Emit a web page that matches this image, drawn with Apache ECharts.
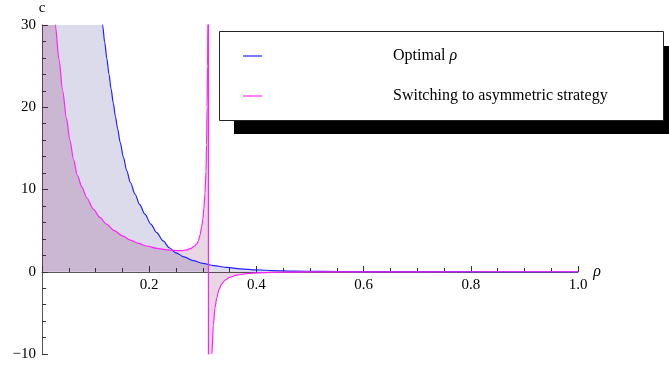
<!DOCTYPE html>
<html>
<head>
<meta charset="utf-8">
<script src="https://cdn.jsdelivr.net/npm/echarts@6/dist/echarts.min.js"></script>
<style>
  html, body { margin: 0; padding: 0; background: #fff; }
  #chart { width: 669px; height: 367px; }
</style>
</head>
<body>
<div id="chart"></div>
<script>
// Optimal rho (blue); first points lie above the plot top
const optimalRho = [0, 0.04, 0.07, 0.09, 0.1, 0.107, 0.113, 0.117, 0.121, 0.125, 0.129, 0.133, 0.137, 0.141, 0.146, 0.152, 0.158, 0.165, 0.1735, 0.182, 0.192, 0.203, 0.214, 0.226, 0.2375, 0.25, 0.265, 0.282, 0.3, 0.32, 0.345, 0.37, 0.4, 0.43, 0.47, 0.52, 0.6, 0.7, 0.85, 1.0]
const optimalC = [400, 180, 95, 62, 48, 38, 30, 27.9, 25.9, 24.0, 22.2, 20.5, 18.9, 17.4, 15.7, 13.9, 12.3, 10.85, 9.45, 8.2, 7.0, 5.8, 4.75, 3.75, 2.92, 2.3, 1.8, 1.36, 1.02, 0.75, 0.52, 0.36, 0.23, 0.14, 0.08, 0.04, 0.015, 0.006, 0.002, 0.001]

// Switching to asymmetric strategy (magenta): branch left of the pole near rho = 0.31
const switchRhoLeft = [0, 0.01, 0.018, 0.0248, 0.0317, 0.0386, 0.0455, 0.052, 0.059, 0.066, 0.0745, 0.0834, 0.096, 0.108, 0.12, 0.135, 0.15, 0.165, 0.18, 0.195, 0.214, 0.233, 0.25, 0.262, 0.27, 0.278, 0.284, 0.289, 0.292, 0.295, 0.298, 0.3, 0.302, 0.304, 0.306, 0.307, 0.308, 0.3088, 0.3097, 0.3105]
const switchCLeft = [300, 75, 44, 30, 25.8, 22.0, 18.7, 16.0, 13.6, 11.7, 10.3, 9.0, 7.6, 6.6, 5.8, 5.0, 4.35, 3.85, 3.45, 3.13, 2.85, 2.66, 2.58, 2.57, 2.65, 2.85, 3.1, 3.4, 3.8, 4.5, 5.5, 6.4, 7.7, 9.5, 12.2, 15.5, 20, 25, 31, 300]
// branch right of the pole
const switchRhoRight = [0.3105, 0.3125, 0.315, 0.317, 0.3196, 0.323, 0.326, 0.33, 0.335, 0.342, 0.351, 0.365, 0.382, 0.41, 0.443, 0.5, 0.6, 0.8, 1.0]
const switchCRight = [-300, -60, -17, -10, -6.5, -4.3, -3.2, -2.2, -1.5, -1.0, -0.65, -0.38, -0.22, -0.11, -0.05, -0.02, -0.006, -0.002, -0.001]

const xTicks = [0.2, 0.4, 0.6, 0.8, 1.0]
const yTicks = [-10, 0, 10, 20, 30]
const legendNames = ['Optimal {i|ρ}', 'Switching to asymmetric strategy']

const blueLine = '#2222ff'
const pinkLine = '#ff22ff'
const blueFill = 'rgba(40,40,140,0.17)'
const pinkFill = 'rgba(120,14,85,0.17)'
const serif = '"Liberation Serif", "DejaVu Serif", serif'

const pairs = (xs, ys) => xs.map((x, i) => [x, ys[i]])
const bluePts = pairs(optimalRho, optimalC)
const pinkLeft = pairs(switchRhoLeft, switchCLeft)
const pinkRight = pairs(switchRhoRight, switchCRight)
// 极点处的竖线
const pinkPole = [pinkLeft[pinkLeft.length - 1], pinkRight[0]]

const chart = echarts.init(document.getElementById('chart'))

const axisText = { color: '#000', fontFamily: serif, fontSize: 15 }

function area(data, color) {
  return {
    type: 'line', data: data, symbol: 'none', z: 1,
    smooth: 0.3, smoothMonotone: 'x',
    lineStyle: { width: 0, opacity: 0 },
    areaStyle: { color: color, opacity: 1 }
  }
}
function curve(data, color, smooth) {
  return {
    type: 'line', data: data, symbol: 'none', z: 3,
    smooth: smooth ? 0.3 : false, smoothMonotone: 'x',
    lineStyle: { color: color, width: 1.2 }
  }
}

chart.setOption({
  animation: false,
  backgroundColor: '#fff',
  grid: { left: 42, right: 91, top: 25, bottom: 13, outerBoundsMode: 'none' },
  xAxis: {
    type: 'value',
    min: 0,
    max: 1,
    interval: 0.2,
    position: 'bottom',
    offset: -82,
    name: 'ρ',
    nameLocation: 'end',
    nameGap: 12,
    nameTextStyle: { color: '#000', fontFamily: serif, fontSize: 16, fontStyle: 'italic', padding: [0, 0, 4, 0] },
    axisLine: { onZero: false, lineStyle: { color: '#555', width: 1 } },
    axisTick: { inside: true, length: 6, lineStyle: { color: '#333' } },
    minorTick: { show: true, splitNumber: 4, length: 4, lineStyle: { color: '#333' } },
    splitLine: { show: false },
    axisLabel: Object.assign({
      margin: 6,
      formatter: v => (xTicks.some(t => Math.abs(t - v) < 1e-9) ? v.toFixed(1) : '')
    }, axisText)
  },
  yAxis: {
    type: 'value',
    min: -10,
    max: 30,
    interval: 10,
    name: 'c',
    nameLocation: 'end',
    nameGap: 9,
    nameTextStyle: { color: '#000', fontFamily: serif, fontSize: 15, align: 'center' },
    axisLine: { onZero: false, lineStyle: { color: '#555', width: 1 } },
    axisTick: { inside: true, length: 6, lineStyle: { color: '#333' } },
    minorTick: { show: true, splitNumber: 5, length: 4, lineStyle: { color: '#333' } },
    splitLine: { show: false },
    axisLabel: Object.assign({
      margin: 6,
      formatter: v => (yTicks.indexOf(v) >= 0 ? String(v).replace('-', '−') : '')
    }, axisText)
  },
  series: [
    area(bluePts, blueFill),
    area(pinkLeft, pinkFill),
    area(pinkRight, pinkFill),
    curve(bluePts, blueLine, true),
    curve(pinkLeft, pinkLine, true),
    curve(pinkPole, pinkLine, false),
    curve(pinkRight, pinkLine, true)
  ],
  graphic: [
    { type: 'rect', shape: { x: 234, y: 46, width: 435, height: 88 }, style: { fill: '#000' }, z: 10 },
    { type: 'rect', shape: { x: 219.5, y: 31.5, width: 444, height: 89 }, style: { fill: '#fff', stroke: '#222', lineWidth: 1 }, z: 11 },
    { type: 'line', shape: { x1: 243, y1: 56, x2: 262, y2: 56 }, style: { stroke: blueLine, lineWidth: 1.2 }, z: 12 },
    { type: 'line', shape: { x1: 243, y1: 96, x2: 262, y2: 96 }, style: { stroke: pinkLine, lineWidth: 1.2 }, z: 12 },
    {
      type: 'text', x: 393, y: 56, z: 12,
      style: { text: legendNames[0], fill: '#000', font: '16px ' + serif, verticalAlign: 'middle',
        rich: { i: { fontStyle: 'italic', fontFamily: serif, fontSize: 16 } } }
    },
    {
      type: 'text', x: 393, y: 96, z: 12,
      style: { text: legendNames[1], fill: '#000', font: '16px ' + serif, verticalAlign: 'middle' }
    }
  ]
})
</script>
</body>
</html>
